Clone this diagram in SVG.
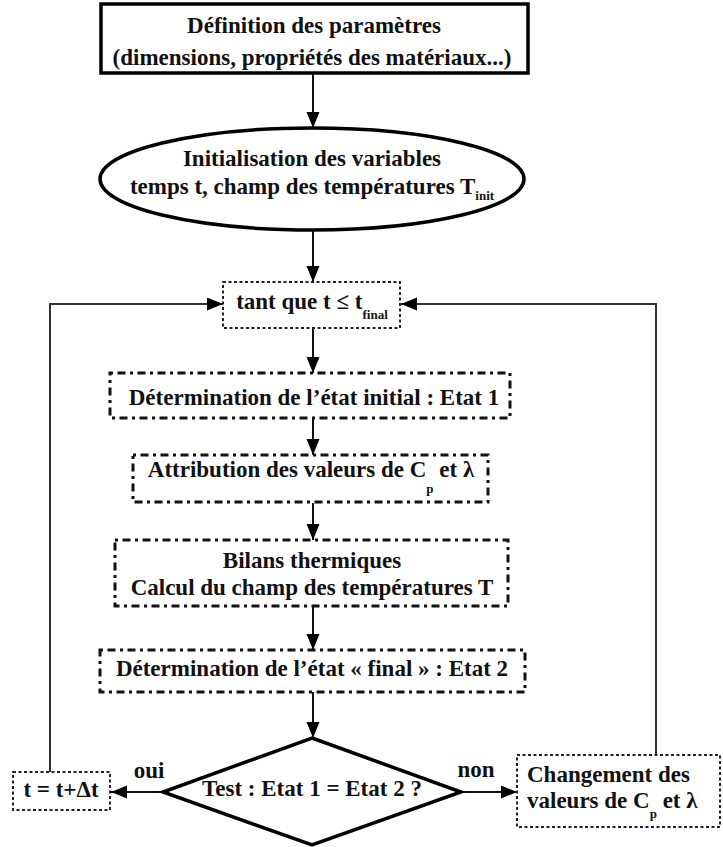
<svg xmlns="http://www.w3.org/2000/svg" width="723" height="847" viewBox="0 0 723 847">
<defs>
<marker id="ah" markerUnits="userSpaceOnUse" markerWidth="17" markerHeight="14" refX="16" refY="6.5" orient="auto">
<path d="M0,0 L16,6.5 L0,13 z" fill="#000"/>
</marker>
<style>
text{font-family:"Liberation Serif","Times New Roman",serif;font-weight:bold;font-size:23px;fill:#111}
.sub{font-size:13px}
.solid{fill:#fff;stroke:#000;stroke-width:3.5}
.dd{fill:#fff;stroke:#111;stroke-width:3;stroke-dasharray:3 4.5 8 4.5}
.dot{fill:#fff;stroke:#222;stroke-width:2;stroke-dasharray:3 2.5}
.c{fill:none;stroke:#111;stroke-width:2;marker-end:url(#ah)}
.loop{fill:none;stroke:#333;stroke-width:2;marker-end:url(#ah)}
</style>
</defs>
<rect width="723" height="847" fill="#fff"/>
<g id="connectors">
<path class="c" d="M313,74 V128"/>
<path class="c" d="M313,231 V282"/>
<path class="c" d="M313,328 V373"/>
<path class="c" d="M313,419 V455"/>
<path class="c" d="M313,503 V540"/>
<path class="c" d="M313,607 V650"/>
<path class="c" d="M313,692 V738"/>
<path class="c" d="M163,792 H111"/>
<path class="c" d="M460,792 H517"/>
<path class="loop" d="M50,772 V304 H223"/>
<path class="loop" d="M656,755 V304 H401"/>
</g>
<g id="n-definition">
<rect class="solid" x="101" y="4" width="427" height="69"/>
<text x="314" y="33" text-anchor="middle">Définition des paramètres</text>
<text x="312" y="65" text-anchor="middle">(dimensions, propriétés des matériaux...)</text>
</g>
<g id="n-init">
<ellipse class="solid" cx="312" cy="179" rx="212" ry="51"/>
<text x="312" y="166" text-anchor="middle">Initialisation des variables</text>
<text x="312" y="194" text-anchor="middle">temps t, champ des températures T<tspan class="sub" dy="6">init</tspan></text>
</g>
<g id="n-tantque">
<rect class="dot" x="223" y="282" width="177" height="46"/>
<text x="312" y="309" text-anchor="middle">tant que t ≤ t<tspan class="sub" dy="10">final</tspan></text>
</g>
<g id="n-etat1">
<rect class="dd" x="110" y="373" width="400" height="45"/>
<text x="314" y="405" text-anchor="middle">Détermination de l’état initial : Etat 1</text>
</g>
<g id="n-attribution">
<rect class="dd" x="133" y="455" width="355" height="47"/>
<text x="311" y="477" text-anchor="middle">Attribution des valeurs de C<tspan class="sub" dy="16">p</tspan><tspan dy="-16"> et λ</tspan></text>
</g>
<g id="n-bilans">
<rect class="dd" x="115" y="540" width="393" height="66"/>
<text x="312" y="568" text-anchor="middle">Bilans thermiques</text>
<text x="312" y="595" text-anchor="middle">Calcul du champ des températures T</text>
</g>
<g id="n-etat2">
<rect class="dd" x="100" y="650" width="425" height="42"/>
<text x="312" y="676" text-anchor="middle">Détermination de l’état « final » : Etat 2</text>
</g>
<g id="n-test">
<polygon class="solid" points="312,738 461,792 312,845 163,792"/>
<text x="312" y="796" text-anchor="middle">Test : Etat 1 = Etat 2 ?</text>
<text x="149" y="778" text-anchor="middle">oui</text>
<text x="476" y="777" text-anchor="middle">non</text>
</g>
<g id="n-increment">
<rect class="dot" x="13" y="772" width="97" height="38"/>
<text x="61" y="797" text-anchor="middle">t = t+Δt</text>
</g>
<g id="n-changement">
<rect class="dot" x="517" y="755" width="203" height="72"/>
<text x="527" y="782">Changement des</text>
<text x="527" y="808">valeurs de C<tspan class="sub" dy="10">p</tspan><tspan dy="-10"> et λ</tspan></text>
</g>
</svg>
